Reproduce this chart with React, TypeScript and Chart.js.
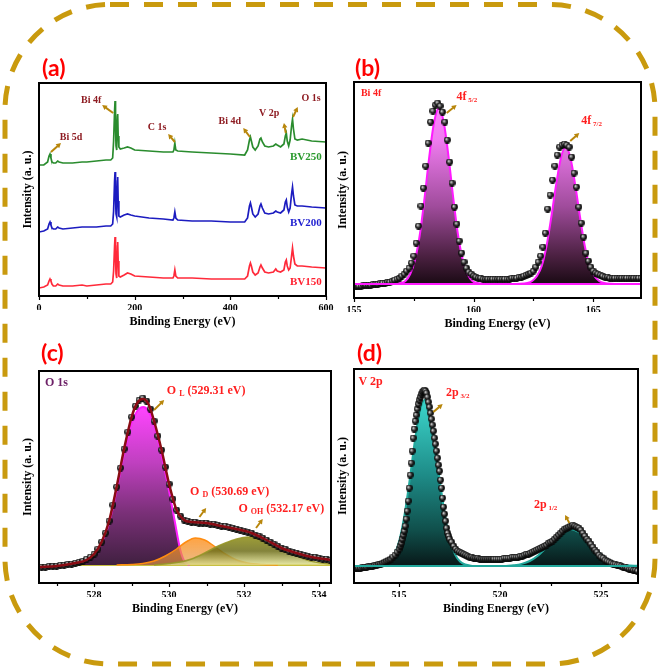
import React, { useEffect, useRef } from 'react';
import { Chart, registerables } from 'chart.js';
Chart.register(...registerables);

type P = [number, number];
type Arrow = [number, number, number, number];
type Part = [string, number, number?];
type Label = { x: number; y: number; parts: Part[]; color: string; align?: 'left' | 'center' };

const SERIF = '"Liberation Serif", "Times New Roman", serif';

// ---------------- (a) survey ----------------
const surveyMajor = [0, 200, 400, 600];
const surveyMinor = [100, 300, 500];
const bv150: P[] = [[0,8],[10,9],[18,11],[21,15],[23,17],[25,15],[27,12],[30,10],[35,10],[39,12],[42,11],[50,10],[70,10],[90,11],[100,10],[120,11],[140,12],[150,12],[154,14],[156,25],[158,50],[159,59],[160,40],[161,22],[162,18],[163,30],[164,50],[164.5,54],[165.5,35],[167,20],[170,19],[178,21],[185,23],[192,22],[200,20],[230,19],[260,18],[280,18],[282,20],[284,26],[286,20],[290,18],[320,18],[360,17],[400,17],[430,17],[436,20],[440,30],[442,33],[444,30],[447,24],[452,21],[458,23],[462,29],[464,31],[467,28],[472,24],[480,23],[490,24],[495,27],[498,25],[505,24],[512,26],[515,34],[517,36],[519,30],[522,26],[525,28],[528,40],[530,48],[532,40],[535,32],[540,30],[550,30],[570,29],[600,28]];
const bv200: P[] = [[0,64],[10,65],[18,67],[21,72],[23,74],[25,71],[27,68],[30,67],[35,67],[39,69],[42,68],[50,67],[70,68],[90,69],[100,69],[120,69],[140,70],[150,70],[154,72],[156,85],[158,115],[159,124],[160,100],[161,82],[162,79],[163,95],[164,115],[164.5,119],[165.5,95],[167,80],[170,79],[178,81],[185,82],[192,81],[200,80],[230,78],[260,77],[280,76],[282,78],[284,84],[286,78],[290,76],[320,75],[360,75],[400,74],[430,74],[436,78],[440,90],[442,93],[444,89],[447,82],[452,79],[458,82],[462,90],[464,92],[467,88],[472,83],[480,82],[490,83],[495,85],[498,84],[505,83],[512,86],[515,94],[517,96],[519,89],[522,84],[525,88],[528,102],[530,109],[532,100],[535,91],[540,90],[550,90],[570,89],[600,88]];
const bv250: P[] = [[0,131],[10,131],[18,134],[21,140],[23,142],[25,138],[27,134],[30,133],[35,133],[39,135],[42,134],[50,133],[70,133],[90,134],[100,134],[120,135],[140,136],[150,136],[154,138],[156,155],[158,185],[159,195],[160,170],[161,150],[162,146],[163,165],[164,180],[164.5,182],[165.5,160],[167,149],[170,147],[178,148],[185,149],[192,148],[200,146],[230,145],[260,144],[280,144],[282,146],[284,153],[286,146],[290,145],[320,144],[360,143],[400,142],[430,141],[436,146],[440,156],[442,159],[444,155],[447,149],[452,146],[458,150],[462,157],[464,158],[467,154],[472,150],[480,149],[490,150],[495,152],[498,151],[505,149],[512,152],[515,160],[517,163],[519,155],[522,150],[525,156],[528,170],[530,177],[532,167],[535,157],[540,156],[550,157],[570,155],[600,154]];
const surveyNames = ['BV150', 'BV200', 'BV250'];
const surveyNameAt: P[] = [[558, 14], [558, 73], [558, 139]];
const surveyPeakNames = ['Bi 5d', 'Bi 4f', 'C 1s', 'Bi 4d', 'V 2p', 'O 1s'];
const surveyPeakAt: P[] = [[67,159],[109,196],[247,169],[399,175],[481,183],[569,198]];
const surveyArrows: Arrow[] = [[25,144,46,153],[155,183,132,191],[284,154,270,162],[441,159,427,168],[516,163,512,173],[531,179,541,189]];

// ---------------- (b) Bi 4f ----------------
const bi4fMajor = [155, 160, 165];
const bi4fMinor = [157.5, 162.5];
const bi4fData: P[] = [[155.0,12],[155.1,12],[155.2,12],[155.3,12],[155.4,13],[155.5,13],[155.6,13],[155.7,13],[155.8,14],[155.9,14],[156.0,14],[156.1,15],[156.2,15],[156.3,15],[156.4,16],[156.5,16],[156.6,17],[156.7,18],[156.8,19],[156.9,20],[157.0,22],[157.1,24],[157.2,27],[157.3,30],[157.4,35],[157.5,42],[157.6,55],[157.7,72],[157.8,92],[157.9,110],[158.0,132],[158.1,155],[158.2,176],[158.3,187],[158.4,193],[158.5,195],[158.6,192],[158.7,186],[158.8,176],[158.9,158],[159.0,136],[159.1,115],[159.2,91],[159.3,74],[159.4,57],[159.5,45],[159.6,36],[159.7,30],[159.8,26],[159.9,24],[160.0,22],[160.1,21],[160.2,20],[160.3,20],[160.4,19],[160.5,19],[160.6,19],[160.7,19],[160.8,19],[160.9,19],[161.0,19],[161.1,19],[161.2,19],[161.3,19],[161.4,19],[161.5,19],[161.6,20],[161.7,20],[161.8,20],[161.9,21],[162.0,21],[162.1,22],[162.2,23],[162.3,24],[162.4,25],[162.5,27],[162.6,31],[162.7,36],[162.8,42],[162.9,51],[163.0,65],[163.1,89],[163.2,103],[163.3,118],[163.4,132],[163.5,143],[163.6,151],[163.7,153],[163.8,154],[163.9,153],[164.0,151],[164.1,141],[164.2,125],[164.3,111],[164.4,91],[164.5,75],[164.6,61],[164.7,45],[164.8,37],[164.9,31],[165.0,27],[165.1,25],[165.2,24],[165.3,23],[165.4,22],[165.5,21],[165.6,21],[165.7,20],[165.8,20],[165.9,20],[166.0,20],[166.1,20],[166.2,20],[166.3,20],[166.4,20],[166.5,20],[166.6,20],[166.7,20],[166.8,20],[166.9,20],[167.0,20]];
const bi4f52Fit: P[] = [[156.5,14],[156.95,15],[157.15,17],[157.35,24],[157.55,38],[157.75,63],[157.95,100],[158.15,142],[158.35,176],[158.55,190],[158.75,176],[158.95,142],[159.15,100],[159.35,63],[159.55,38],[159.75,24],[159.95,17],[160.15,15],[160.6,14]];
const bi4f72Fit: P[] = [[161.8,14],[162.25,15],[162.45,17],[162.65,22],[162.85,32],[163.05,52],[163.25,81],[163.45,113],[163.65,140],[163.85,151],[164.05,140],[164.25,113],[164.45,81],[164.65,52],[164.85,32],[165.05,22],[165.25,17],[165.45,15],[165.9,14]];
const bi4fBase: P[] = [[155,14],[167,14]];
const bi4fArrows: Arrow[] = [[158.875,185,159.29,193],[164.04,157,164.42,165]];

// ---------------- (c) O 1s ----------------
const o1sMajor = [528, 530, 532, 534];
const o1sMinor = [527, 529, 531, 533];
const o1sData: P[] = [[526.6,16],[526.7,16],[526.8,17],[526.9,17],[527.0,17],[527.1,18],[527.2,18],[527.3,19],[527.4,19],[527.5,20],[527.6,21],[527.7,22],[527.8,24],[527.9,26],[528.0,29],[528.1,34],[528.2,41],[528.3,50],[528.4,62],[528.5,78],[528.6,96],[528.7,115],[528.8,134],[528.9,151],[529.0,166],[529.1,177],[529.2,183],[529.3,185],[529.4,182],[529.5,174],[529.6,162],[529.7,147],[529.8,133],[529.9,116],[530.0,99],[530.1,84],[530.2,73],[530.3,67],[530.4,63],[530.5,62],[530.6,61],[530.7,61],[530.8,60],[530.9,60],[531.0,60],[531.1,59],[531.2,59],[531.3,58],[531.4,57],[531.5,57],[531.6,56],[531.7,55],[531.8,54],[531.9,53],[532.0,52],[532.1,51],[532.2,50],[532.3,48],[532.4,47],[532.5,45],[532.6,43],[532.7,41],[532.8,39],[532.9,37],[533.0,35],[533.1,34],[533.2,32],[533.3,31],[533.4,30],[533.5,29],[533.6,28],[533.7,27],[533.8,26],[533.9,26],[534.0,25],[534.1,24],[534.2,24],[534.3,23]];
const o1sEnvelope: P[] = [[526.53,16],[527.0,17],[527.5,20],[527.8,23],[528.0,29],[528.2,41],[528.4,62],[528.6,96],[528.8,134],[529.0,166],[529.15,180],[529.3,184],[529.45,179],[529.6,162],[529.8,133],[530.0,99],[530.2,73],[530.4,63],[530.6,61],[531.0,60],[531.4,57],[531.8,54],[532.2,50],[532.6,43],[533.0,35],[533.4,30],[533.8,26],[534.32,23]];
const oLattice: P[] = [[527.5,19],[527.8,22],[528.0,28],[528.2,40],[528.4,60],[528.6,93],[528.8,130],[529.0,160],[529.15,172],[529.31,176],[529.45,172],[529.6,158],[529.8,128],[530.0,92],[530.15,62],[530.3,33],[530.42,21],[530.55,18]];
const oDefect: P[] = [[528.6,18],[529.0,18.5],[529.3,19.5],[529.6,22],[529.9,27],[530.2,34],[530.45,41],[530.7,45],[530.95,43],[531.2,37],[531.5,29],[531.8,23],[532.1,20],[532.5,18.5],[532.9,18]];
const oHydroxyl: P[] = [[529.6,18],[530.0,19.5],[530.3,21],[530.6,24],[530.9,29],[531.2,35],[531.5,40],[531.8,44],[532.1,46],[532.4,45],[532.7,41],[533.0,35],[533.3,29],[533.6,24],[533.9,21],[534.32,19]];
const o1sBase: P[] = [[526.53,18],[534.32,18]];
const o1sArrows: Arrow[] = [[529.6,173,529.87,183],[530.81,66,530.99,75],[532.32,55,532.5,64]];

// ---------------- (d) V 2p ----------------
const v2pMajor = [515, 520, 525];
const v2pMinor = [517.5, 522.5];
const v2pData: P[] = [[512.8,15],[512.9,15],[513.0,15],[513.1,15],[513.2,16],[513.3,16],[513.4,16],[513.5,17],[513.6,17],[513.7,17],[513.8,18],[513.9,18],[514.0,19],[514.1,19],[514.2,20],[514.3,21],[514.4,22],[514.5,23],[514.6,24],[514.7,26],[514.8,28],[514.9,31],[515.0,34],[515.05,37],[515.1,40],[515.15,44],[515.2,48],[515.25,52],[515.3,57],[515.35,64],[515.4,72],[515.45,82],[515.5,95],[515.55,108],[515.6,120],[515.65,132],[515.7,145],[515.75,154],[515.8,162],[515.85,168],[515.9,174],[515.95,179],[516.0,183],[516.05,186],[516.1,189],[516.15,191],[516.2,192],[516.25,193],[516.3,192],[516.35,190],[516.4,186],[516.45,181],[516.5,176],[516.55,170],[516.6,164],[516.65,158],[516.7,152],[516.75,145],[516.8,139],[516.85,132],[516.9,125],[516.95,118],[517.0,112],[517.05,103],[517.1,95],[517.15,85],[517.2,76],[517.25,69],[517.3,62],[517.35,55],[517.4,50],[517.45,47],[517.5,44],[517.6,41],[517.7,37],[517.8,34],[517.9,32],[518.0,31],[518.1,30],[518.2,29],[518.3,28],[518.4,27],[518.5,26],[518.6,26],[518.7,25],[518.8,25],[518.9,25],[519.0,24],[519.1,24],[519.2,24],[519.3,24],[519.4,24],[519.5,24],[519.6,24],[519.7,24],[519.8,24],[519.9,24],[520.0,24],[520.1,24],[520.2,25],[520.3,25],[520.4,25],[520.5,25],[520.6,26],[520.7,26],[520.8,26],[520.9,26],[521.0,27],[521.1,27],[521.2,28],[521.3,29],[521.4,29],[521.5,30],[521.6,31],[521.7,32],[521.8,33],[521.9,34],[522.0,35],[522.1,36],[522.2,37],[522.3,38],[522.4,40],[522.5,41],[522.6,42],[522.7,44],[522.8,46],[522.9,48],[523.0,50],[523.1,52],[523.2,54],[523.3,55],[523.4,56],[523.5,57],[523.6,58],[523.7,57],[523.8,56],[523.9,55],[524.0,53],[524.1,50],[524.2,47],[524.3,44],[524.4,42],[524.5,39],[524.6,36],[524.7,33],[524.8,31],[524.9,28],[525.0,26],[525.1,25],[525.2,23],[525.3,22],[525.4,21],[525.5,20],[525.6,19],[525.7,19],[525.8,18],[525.9,18],[526.0,17],[526.1,16],[526.2,16],[526.3,15],[526.4,14],[526.5,14],[526.6,13],[526.7,13],[526.8,12]];
const v2p32Fit: P[] = [[513.9,17],[514.27,18.5],[514.52,21.5],[514.77,28.6],[515.02,43],[515.27,68],[515.52,102],[515.77,140],[516.02,171],[516.27,183],[516.52,171],[516.77,140],[517.02,102],[517.27,68],[517.52,43],[517.77,28.6],[518.02,21.5],[518.27,18.5],[518.7,17]];
const v2p12Fit: P[] = [[520.3,17],[520.67,17.7],[521.07,19.1],[521.47,22],[521.87,27.3],[522.27,35],[522.67,43.9],[523.07,51.2],[523.47,54],[523.87,51.2],[524.27,43.9],[524.67,35],[525.07,27.3],[525.47,22],[525.87,19.1],[526.27,17.7],[526.83,17.2]];
const v2pBase: P[] = [[512.77,17],[526.83,17]];
const v2pArrows: Arrow[] = [[516.7,171,517.16,179],[523.43,60,523.22,68]];

// ---------------- helpers ----------------
let sphereCache: HTMLCanvasElement | null = null;
function sphere(): HTMLCanvasElement {
  if (sphereCache) return sphereCache;
  const c = document.createElement('canvas');
  c.width = 7; c.height = 7;
  const g = c.getContext('2d')!;
  const rg = g.createRadialGradient(2.4, 2.4, 0, 3.5, 3.5, 3.7);
  rg.addColorStop(0, '#f4f4f4');
  rg.addColorStop(0.28, '#8a8a8a');
  rg.addColorStop(0.62, '#1a1a1a');
  rg.addColorStop(1, '#000');
  g.fillStyle = rg;
  g.beginPath(); g.arc(3.5, 3.5, 3.4, 0, Math.PI * 2); g.fill();
  sphereCache = c;
  return c;
}

const xy = (pts: P[]) => pts.map(([x, y]) => ({ x, y }));

function line(pts: P[], color: string, width: number, order: number, extra: any = {}) {
  return { data: xy(pts), borderColor: color, borderWidth: width, pointRadius: 0, fill: false, tension: 0, order, ...extra };
}
function smooth(pts: P[], color: string, width: number, order: number, extra: any = {}) {
  return line(pts, color, width, order, { cubicInterpolationMode: 'monotone', ...extra });
}
function dots(pts: P[], order: number) {
  return { data: xy(pts), showLine: false, pointStyle: sphere(), pointRadius: 3.5, borderWidth: 0, order };
}
function vgrad(top: number, base: number, stops: [number, string][]) {
  return (c: any) => {
    const chart = c.chart;
    if (!chart.chartArea) return 'rgba(0,0,0,0)';
    const y = chart.scales.y;
    const g = chart.ctx.createLinearGradient(0, y.getPixelForValue(top), 0, y.getPixelForValue(base));
    stops.forEach(([o, col]) => g.addColorStop(o, col));
    return g;
  };
}

function drawArrow(ctx: CanvasRenderingContext2D, x1: number, y1: number, x2: number, y2: number) {
  const ang = Math.atan2(y2 - y1, x2 - x1);
  const hl = 5.5;
  ctx.strokeStyle = '#B8860B';
  ctx.fillStyle = '#B8860B';
  ctx.lineWidth = 2;
  ctx.beginPath();
  ctx.moveTo(x1, y1);
  ctx.lineTo(x2 - Math.cos(ang) * hl * 0.8, y2 - Math.sin(ang) * hl * 0.8);
  ctx.stroke();
  ctx.beginPath();
  ctx.moveTo(x2, y2);
  ctx.lineTo(x2 - hl * Math.cos(ang - 0.5), y2 - hl * Math.sin(ang - 0.5));
  ctx.lineTo(x2 - hl * Math.cos(ang + 0.5), y2 - hl * Math.sin(ang + 0.5));
  ctx.closePath();
  ctx.fill();
}

function drawRich(ctx: CanvasRenderingContext2D, l: Label, px: number, py: number) {
  const widths = l.parts.map(([t, s]) => { ctx.font = `bold ${s}px ${SERIF}`; return ctx.measureText(t).width; });
  const total = widths.reduce((a, b) => a + b, 0);
  let cx = l.align === 'center' ? px - total / 2 : px;
  ctx.textAlign = 'left';
  ctx.textBaseline = 'middle';
  ctx.fillStyle = l.color;
  l.parts.forEach(([t, s, dy], i) => {
    ctx.font = `bold ${s}px ${SERIF}`;
    ctx.fillText(t, cx, py + (dy || 0));
    cx += widths[i];
  });
}

type Spec = {
  area: { L: number; T: number; R: number; B: number };
  xmin: number; xmax: number; ymax: number;
  major: number[]; minor: number[];
  datasets: () => any[];
  arrows: Arrow[];
  labels: Label[];
};

function decorPlugin(spec: Spec) {
  return {
    id: 'decor',
    afterDatasetsDraw(chart: any) {
      const { ctx, chartArea: a, scales } = chart;
      const x = scales.x, y = scales.y;
      ctx.save();
      ctx.strokeStyle = '#000';
      ctx.lineWidth = 2;
      ctx.strokeRect(a.left, a.top, a.right - a.left, a.bottom - a.top);
      ctx.lineWidth = 1.2;
      const tick = (v: number, len: number) => {
        const px = Math.round(x.getPixelForValue(v)) + 0.5;
        ctx.beginPath(); ctx.moveTo(px, a.bottom); ctx.lineTo(px, a.bottom + len); ctx.stroke();
      };
      spec.major.forEach((v) => tick(v, 4));
      spec.minor.forEach((v) => tick(v, 3));
      ctx.fillStyle = '#000';
      ctx.font = `bold 12px ${SERIF}`;
      ctx.textAlign = 'center';
      ctx.textBaseline = 'middle';
      ctx.fillText('Binding Energy (eV)', (a.left + a.right) / 2, a.bottom + 26);
      ctx.save();
      ctx.translate(a.left - 11.5, (a.top + a.bottom) / 2);
      ctx.rotate(-Math.PI / 2);
      ctx.fillText('Intensity (a. u.)', 0, 0);
      ctx.restore();
      spec.arrows.forEach(([x1, y1, x2, y2]) =>
        drawArrow(ctx, x.getPixelForValue(x1), y.getPixelForValue(y1), x.getPixelForValue(x2), y.getPixelForValue(y2)));
      spec.labels.forEach((l) => drawRich(ctx, l, x.getPixelForValue(l.x), y.getPixelForValue(l.y)));
      ctx.restore();
    },
  };
}

function buildConfig(spec: Spec): any {
  return {
    type: 'line',
    data: { datasets: spec.datasets() },
    options: {
      animation: false,
      responsive: false,
      maintainAspectRatio: false,
      events: [],
      layout: { padding: { left: 36, top: 10, right: 14, bottom: 26 } },
      plugins: { legend: { display: false }, tooltip: { enabled: false } },
      scales: {
        x: {
          type: 'linear', min: spec.xmin, max: spec.xmax,
          grid: { display: false, drawTicks: false },
          border: { display: false },
          ticks: { color: '#000', font: { family: SERIF, size: 10, weight: 'bold' }, padding: 6, maxRotation: 0, autoSkip: false },
          afterBuildTicks: (s: any) => { s.ticks = spec.major.map((v) => ({ value: v })); },
          afterFit: (s: any) => { s.height = 14; },
        },
        y: { type: 'linear', display: false, min: 0, max: spec.ymax },
      },
    },
    plugins: [decorPlugin(spec)],
  };
}

const RED = '#FF1F1F';
const DARKRED = '#8E1C22';

const panelA: Spec = {
  area: { L: 39, T: 83, R: 326, B: 296 },
  xmin: 0, xmax: 600, ymax: 213,
  major: surveyMajor, minor: surveyMinor,
  datasets: () => [
    line(bv150, '#FF2A3A', 1.7, 0),
    line(bv200, '#1C1CC0', 1.7, 1),
    line(bv250, '#2A8C2E', 1.7, 2),
  ],
  arrows: surveyArrows,
  labels: [
    ...surveyPeakNames.map((t, i) => ({ x: surveyPeakAt[i][0], y: surveyPeakAt[i][1], parts: [[t, 10]] as Part[], color: DARKRED, align: 'center' as const })),
    ...surveyNames.map((t, i) => ({ x: surveyNameAt[i][0], y: surveyNameAt[i][1], parts: [[t, 11]] as Part[], color: ['#FF2030', '#1E1ED0', '#2A9A2E'][i], align: 'center' as const })),
  ],
};

const magentaStops: [number, string][] = [[0, '#FF84FF'], [0.2, '#F07CF0'], [0.57, '#A04C9C'], [0.85, '#4A2040'], [1, '#1A0A14']];

const panelB: Spec = {
  area: { L: 354, T: 82, R: 641, B: 298 },
  xmin: 155, xmax: 167, ymax: 216,
  major: bi4fMajor, minor: bi4fMinor,
  datasets: () => [
    line(bi4fBase, '#FF1AFF', 2, 0),
    dots(bi4fData, 1),
    smooth(bi4f52Fit, '#FF1AFF', 2, 2, { fill: { value: 14 }, backgroundColor: vgrad(195, 14, magentaStops) }),
    smooth(bi4f72Fit, '#FF1AFF', 2, 3, { fill: { value: 14 }, backgroundColor: vgrad(195, 14, magentaStops) }),
  ],
  arrows: bi4fArrows,
  labels: [
    { x: 155.29, y: 205, parts: [['Bi 4f', 10]], color: RED },
    { x: 159.29, y: 201, parts: [['4f', 12], [' 5/2', 7, 3]], color: RED },
    { x: 164.5, y: 177, parts: [['4f', 12], [' 7/2', 7, 3]], color: RED },
  ],
};

const panelC: Spec = {
  area: { L: 39, T: 371, R: 331, B: 583 },
  xmin: 526.53, xmax: 534.32, ymax: 212,
  major: o1sMajor, minor: o1sMinor,
  datasets: () => [
    smooth(o1sEnvelope, '#8A0C14', 2.5, 0),
    dots(o1sData, 1),
    smooth(oHydroxyl, 'rgba(150,150,40,0.9)', 1.5, 2, { fill: { value: 18 }, backgroundColor: vgrad(46, 18, [[0, 'rgba(140,140,20,0.85)'], [0.5, 'rgba(110,110,25,0.85)'], [1, 'rgba(225,225,140,0.8)']]) }),
    smooth(oDefect, '#FF8C10', 1.5, 3, { fill: { value: 18 }, backgroundColor: vgrad(45, 18, [[0, 'rgba(255,140,20,0.8)'], [1, 'rgba(225,150,70,0.65)']]) }),
    smooth(oLattice, '#FF20FF', 2, 4, { fill: { value: 18 }, backgroundColor: vgrad(176, 18, [[0, '#FF44FF'], [0.35, '#C040C0'], [0.67, '#7A3078'], [1, '#402040']]) }),
    line(o1sBase, '#C8C040', 2, 5),
  ],
  arrows: o1sArrows,
  labels: [
    { x: 526.69, y: 200, parts: [['O 1s', 12]], color: '#6E2268' },
    { x: 529.94, y: 192, parts: [['O ', 12], ['L', 8, 3], [' (529.31 eV)', 12]], color: RED },
    { x: 530.56, y: 91, parts: [['O ', 12], ['D', 8, 3], [' (530.69 eV)', 12]], color: RED },
    { x: 531.85, y: 74, parts: [['O ', 12], ['OH', 8, 3], [' (532.17 eV)', 12]], color: RED },
  ],
};

const tealStops: [number, string][] = [[0, '#3CD6CC'], [0.45, '#1E8C88'], [0.78, '#10504C'], [1, '#081818']];

const panelD: Spec = {
  area: { L: 354, T: 369, R: 638, B: 583 },
  xmin: 512.77, xmax: 526.83, ymax: 214,
  major: v2pMajor, minor: v2pMinor,
  datasets: () => [
    line(v2pBase, '#22A89C', 2, 0),
    dots(v2pData, 1),
    smooth(v2p32Fit, '#22A89C', 2, 2, { fill: { value: 17 }, backgroundColor: vgrad(183, 17, tealStops) }),
    smooth(v2p12Fit, '#22A89C', 2, 3, { fill: { value: 17 }, backgroundColor: vgrad(183, 17, tealStops) }),
  ],
  arrows: v2pArrows,
  labels: [
    { x: 512.99, y: 201, parts: [['V 2p', 12]], color: RED },
    { x: 517.33, y: 190, parts: [['2p', 12], [' 3/2', 7, 3]], color: RED },
    { x: 521.68, y: 78, parts: [['2p', 12], [' 1/2', 7, 3]], color: RED },
  ],
};

function Panel({ spec }: { spec: Spec }) {
  const ref = useRef<HTMLCanvasElement | null>(null);
  useEffect(() => {
    const chart = new Chart(ref.current as HTMLCanvasElement, buildConfig(spec));
    return () => chart.destroy();
  }, [spec]);
  const { L, T, R, B } = spec.area;
  const left = L - 36, top = T - 10, w = R - L + 50, h = B - T + 50;
  return <canvas ref={ref} width={w} height={h} style={{ position: 'absolute', left, top, width: w, height: h }} />;
}

const tagStyle: React.CSSProperties = {
  position: 'absolute', color: '#FF0000', fontFamily: 'Lato, "Open Sans", sans-serif', fontWeight: 700,
  fontSize: 23, lineHeight: '23px',
};

export default function App() {
  return (
    <div style={{ position: 'absolute', left: 0, top: 0, width: 661, height: 669, background: '#fff', overflow: 'hidden' }}>
      <svg width={661} height={669} style={{ position: 'absolute', left: 0, top: 0 }}>
        <rect x={5} y={4.5} width={650} height={659.5} rx={105} ry={105} fill="none" stroke="#C99A0E" strokeWidth={5} strokeDasharray="19 15" />
      </svg>
      <Panel spec={panelA} />
      <Panel spec={panelB} />
      <Panel spec={panelC} />
      <Panel spec={panelD} />
      <div style={{ ...tagStyle, left: 42, top: 56 }}>(a)</div>
      <div style={{ ...tagStyle, left: 355, top: 56 }}>(b)</div>
      <div style={{ ...tagStyle, left: 41, top: 341 }}>(c)</div>
      <div style={{ ...tagStyle, left: 357, top: 341 }}>(d)</div>
    </div>
  );
}
